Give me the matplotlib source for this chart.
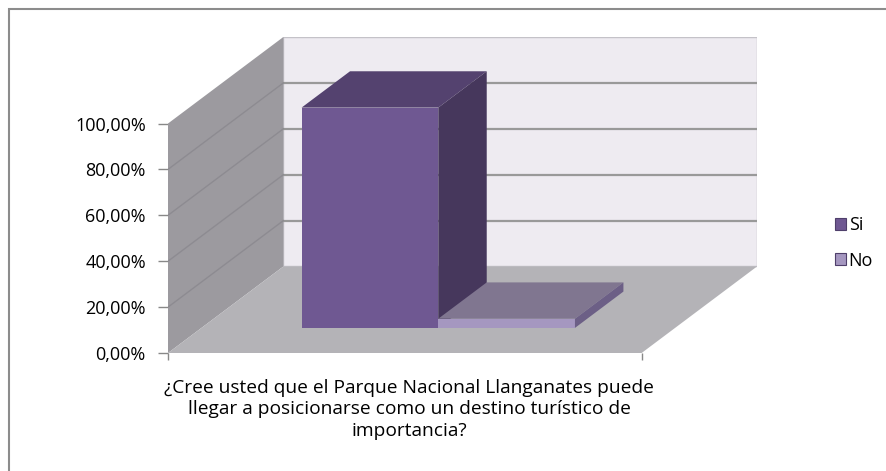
import matplotlib.pyplot as plt
from matplotlib.patches import Patch, Rectangle
import numpy as np

# datos de la encuesta
pregunta = "¿Cree usted que el Parque Nacional Llanganates puede\nllegar a posicionarse como un destino turístico de\nimportancia?"
series = ["Si", "No"]
valores = [96.0, 4.0]
ticks_y = [0, 20, 40, 60, 80, 100]
etiquetas_y = ["0,00%", "20,00%", "40,00%", "60,00%", "80,00%", "100,00%"]

# colores estilo Excel (frente, arriba, lado)
col_frente = ["#6f5892", "#a597c0"]
col_arriba = ["#54426f", "#807690"]
col_lado = ["#46375c", "#6c5f86"]

plt.rcParams['font.family'] = ['Open Sans', 'DejaVu Sans']
plt.rcParams['font.size'] = 13

# proyeccion oblicua: profundidad z (0 frente, 1 fondo)
DX = 0.2436
DY = 37.7

def P(x, y, z):
    return (x + z * DX, y + z * DY)

def cara(ax, pts, color, ec=None, lw=0.0, z=1):
    xy = np.array([P(*p) for p in pts])
    ax.fill(xy[:, 0], xy[:, 1], color=color, ec=ec if ec else color, lw=lw, zorder=z)

fig = plt.figure(figsize=(8.86, 4.71), dpi=100)
ax = fig.add_axes([168 / 886, 1 - 353 / 471, (757 - 168) / 886, (353 - 37) / 471])
ax.set_xlim(0, 1 + DX)
ax.set_ylim(0, 100 + DY)

# paredes y piso
cara(ax, [(0, 0, 1), (1, 0, 1), (1, 100, 1), (0, 100, 1)], "#eeebf1", ec="#c4c2c8", lw=1.0, z=1)
cara(ax, [(0, 0, 0), (0, 100, 0), (0, 100, 1), (0, 0, 1)], "#9c9a9f", z=2)
cara(ax, [(0, 0, 0), (1, 0, 0), (1, 0, 1), (0, 0, 1)], "#b4b3b7", z=2)

# lineas de division
for v in ticks_y[1:-1]:
    a = P(0, v, 1)
    b = P(1, v, 1)
    ax.plot([a[0], b[0]], [a[1], b[1]], color="#999999", lw=1.6, zorder=3)
    c = P(0, v, 0)
    ax.plot([c[0], a[0]], [c[1], a[1]], color="#8d8b91", lw=1.0, zorder=3)

# barras 3D
ancho = 0.2886
z0, z1 = 0.29, 0.71
for i, val in enumerate(valores):
    x0 = 0.5 - ancho + i * ancho
    x1 = x0 + ancho
    zz = 5 + i
    cara(ax, [(x0, 0, z0), (x1, 0, z0), (x1, val, z0), (x0, val, z0)], col_frente[i], z=zz)
    cara(ax, [(x0, val, z0), (x1, val, z0), (x1, val, z1), (x0, val, z1)], col_arriba[i], z=zz)
    cara(ax, [(x1, 0, z0), (x1, 0, z1), (x1, val, z1), (x1, val, z0)], col_lado[i], z=zz)

# ejes
for s in ax.spines.values():
    s.set_visible(False)
ax.set_yticks(ticks_y)
ax.set_yticklabels(etiquetas_y)
ax.tick_params(axis='y', length=7, width=1, color="#888888", pad=9)
ax.set_xticks([0, 1])
ax.set_xticklabels(["", ""])
ax.tick_params(axis='x', length=5, width=1, color="#888888")
ax.patch.set_alpha(0)

ax.annotate(pregunta, xy=(0.5, 0), xycoords=('data', 'axes fraction'),
            xytext=(3, -19), textcoords='offset points', fontsize=13.8,
            ha='center', va='top', linespacing=1.22)

# leyenda
handles = [Patch(facecolor=col_frente[i], edgecolor="#4f3f6b", lw=0.8) for i in range(2)]
fig.legend(handles, series, loc='center left', bbox_to_anchor=(826 / 886, 1 - 243 / 471),
           frameon=False, handlelength=0.6, handleheight=0.6, handletextpad=0.15,
           labelspacing=0.95, borderpad=0)

# marco del grafico
fig.patches.append(Rectangle((8.5 / 886, -0.1), 2, 1.1 - 8.5 / 471, transform=fig.transFigure,
                             fill=False, ec="#8c8c8c", lw=1.5))

plt.savefig("out.png", dpi=100)
